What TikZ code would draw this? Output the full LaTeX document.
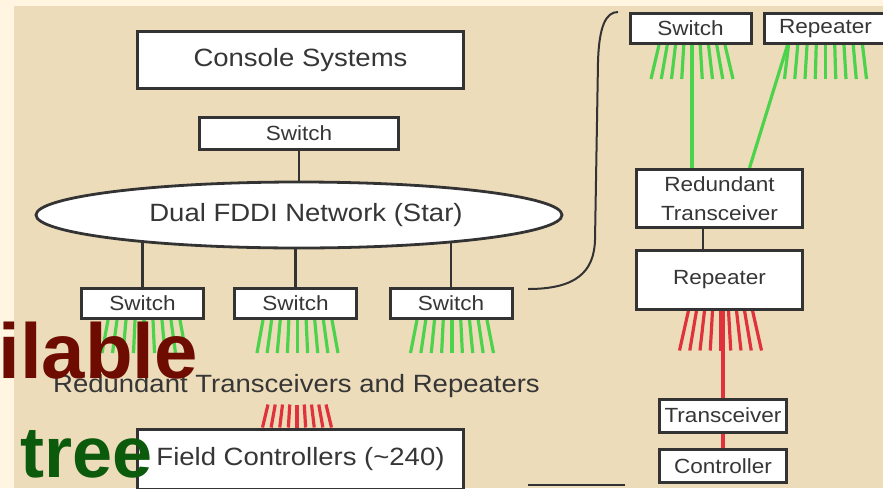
\documentclass[tikz,border=0pt]{standalone}
\usepackage{fontspec}
\setmainfont{Liberation Sans}[FakeStretch=1.1]
\newfontfamily\wmfont{Liberation Sans}
\usetikzlibrary{shapes.geometric}
\pgfdeclarelayer{bgl}
\pgfdeclarelayer{conn}
\pgfsetlayers{bgl,conn,main}
\definecolor{cream}{HTML}{FFF5E1}
\definecolor{tan}{HTML}{EDDCBA}
\definecolor{boxc}{HTML}{333333}
\definecolor{txt}{HTML}{363636}
\definecolor{gfan}{HTML}{4CD34C}
\definecolor{rfan}{HTML}{E0323C}
\definecolor{wmred}{HTML}{6E0C02}
\definecolor{wmgreen}{HTML}{0C5A0C}
\newcommand\fanlines[6]{%
  \foreach \i in {-4,...,4}
    \draw[#2] ([xshift={((#3)+(\i)*(#4)/4)*1pt}]#1) -- ++({(\i)*((#5)-(#4))/4}, #6);
}
\begin{document}
\begin{tikzpicture}[x=1pt,y=-1pt,
  box/.style={draw=boxc, line width=3pt, fill=white, text=txt, inner sep=0pt},
  bigtxt/.style={font=\fontsize{25}{30}\selectfont},
  smalltxt/.style={font=\fontsize{20.5}{29}\selectfont},
  bline/.style={draw=boxc, line width=2.8pt},
  gline/.style={draw=gfan, line width=3.2pt},
  rline/.style={draw=rfan, line width=3.2pt},
  brk/.style={draw=boxc, line width=2pt}]
\useasboundingbox (0,0) rectangle (883,488);
\begin{pgfonlayer}{bgl}
  \fill[cream] (0,0) rectangle (883,488);
  \fill[tan] (14,6) rectangle (883,488);
\end{pgfonlayer}

% left tree
\node[box, bigtxt, minimum width=326, minimum height=57] (console) at (300.5,60) {Console Systems};
\node[box, smalltxt, minimum width=199, minimum height=32] (sw0) at (299,133.5) {Switch};
\node[ellipse, draw=boxc, line width=2.8pt, fill=white, inner sep=0pt,
      minimum width=526, minimum height=66] (net) at (299,215) {};
\node[text=txt, bigtxt, inner sep=0pt] (netlbl) at (306,215) {Dual FDDI Network (Star)};
\node[box, smalltxt, minimum width=122, minimum height=30] (sw1) at (142.5,303.5) {Switch};
\node[box, smalltxt, minimum width=122, minimum height=30] (sw2) at (295.5,303.5) {Switch};
\node[box, smalltxt, minimum width=122, minimum height=30] (sw3) at (451,303.5) {Switch};
\node[text=txt, bigtxt, inner sep=0pt, anchor=base] (rtr) at (296.5,392) {Redundant Transceivers and Repeaters};
\node[box, bigtxt, minimum width=326, minimum height=60] (fc) at (300.5,459) {Field Controllers (\char`\~240)};

% right detail
\node[box, smalltxt, minimum width=121, minimum height=30] (rsw) at (690.5,28.5) {Switch};
\node[box, smalltxt, minimum width=123, minimum height=30] (rrep) at (825.5,28.5) {Repeater};
\node[box, smalltxt, align=center, minimum width=166, minimum height=58] (rt) at (719.5,198.5) {Redundant\\Transceiver};
\node[box, smalltxt, minimum width=166, minimum height=59] (rrep2) at (719.5,279.5) {Repeater};
\node[box, smalltxt, minimum width=127, minimum height=33] (trx) at (723,415.5) {Transceiver};
\node[box, smalltxt, minimum width=127, minimum height=33] (ctl) at (723,466) {Controller};

\begin{pgfonlayer}{conn}
  \draw[bline] (sw0.south) -- (net.north);
  \draw[bline] (sw1.north) -- (sw1.north |- net.center);
  \draw[bline] (sw2.north) -- (sw2.north |- net.center);
  \draw[bline] (sw3.north) -- (sw3.north |- net.center);
  \fanlines{sw1.south}{gline}{1.5}{36}{42}{33}
  \fanlines{sw2.south}{gline}{2}{34.5}{40.5}{33}
  \fanlines{sw3.south}{gline}{1}{35}{41.5}{33}
  \fanlines{fc.north}{rline}{-3.5}{34.5}{29}{-23}
  \fanlines{rsw.south}{gline}{1.5}{33}{41}{34}
  \fanlines{rrep.south}{gline}{0}{37}{41}{34}
  \fanlines{rrep2.south}{rline}{1}{32}{41}{40}
  \draw[gline] ([xshift=1.5pt]rsw.south) -- ([xshift=1.5pt]rsw.south |- rt.north);
  \draw[gline] ([xshift=-38pt]rrep.south) -- ([xshift=30pt]rt.north);
  \draw[bline] ([xshift=-16.5pt]rt.south) -- ([xshift=-16.5pt]rrep2.north);
  \draw[rline] (trx.north |- rrep2.south) -- (trx.north);
  \draw[rline] (trx.south) -- (ctl.north);
  % brackets
  \draw[brk] (528,289) .. controls (576,289) and (594,272) .. (595,240)
             -- (598,62) .. controls (599,26) and (606,12) .. (618,12);
  \draw[brk] (528,485) -- (625,485);
\end{pgfonlayer}

% overlay words
\node[wmred, font=\wmfont\bfseries\fontsize{78}{80}\selectfont, inner sep=0pt, anchor=base east] (wm1) at (198,378) {ilable};
\node[wmgreen, font=\wmfont\bfseries\fontsize{72}{74}\selectfont, inner sep=0pt, anchor=base west] (wm2) at (20,477) {tree};
\end{tikzpicture}
\end{document}
